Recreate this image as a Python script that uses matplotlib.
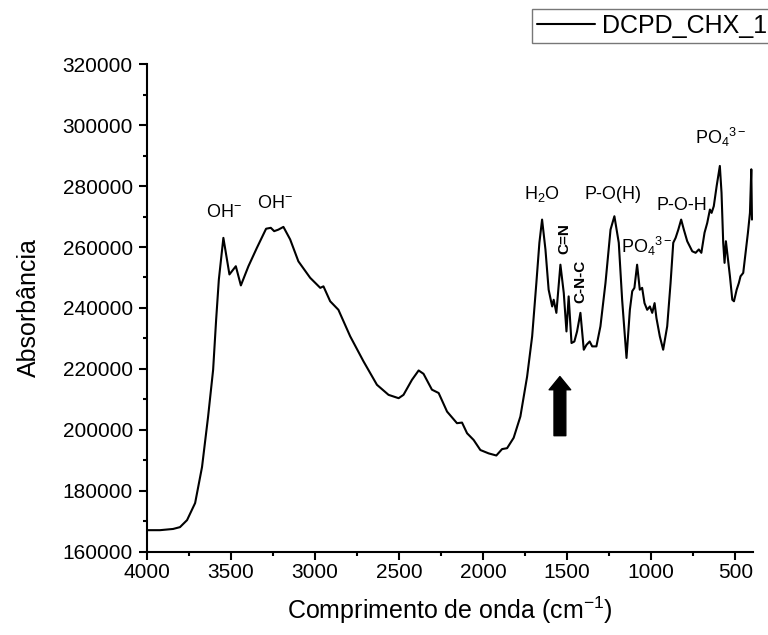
import matplotlib
matplotlib.use("Agg")
import matplotlib.pyplot as plt
from matplotlib.ticker import MultipleLocator, FormatStrFormatter

plt.rcParams["font.family"] = ["Liberation Sans", "DejaVu Sans"]
plt.rcParams["mathtext.fontset"] = "custom"
plt.rcParams["mathtext.rm"] = "Liberation Sans"
plt.rcParams["mathtext.it"] = "Liberation Sans:italic"
plt.rcParams["mathtext.bf"] = "Liberation Sans:bold"

# ---------------------------------------------------------------------------
# Spectrum (wavenumber cm-1, absorbance)
# ---------------------------------------------------------------------------
wavenumber = [
    4000, 3921, 3843, 3802, 3760, 3712, 3671, 3635, 3605, 3587,
    3571, 3544, 3508, 3470, 3440, 3395, 3345, 3290, 3262, 3242,
    3217, 3187, 3147, 3098, 3028, 2968, 2949, 2909, 2860, 2790,
    2711, 2631, 2562, 2502, 2473, 2423, 2383, 2354, 2304, 2264,
    2214, 2155, 2125, 2095, 2056, 2016, 1967, 1921, 1887, 1857,
    1818, 1778, 1738, 1708, 1683, 1665, 1649, 1629, 1610, 1589,
    1580, 1564, 1540, 1520, 1504, 1491, 1474, 1457, 1441, 1421,
    1401, 1385, 1366, 1351, 1326, 1302, 1272, 1242, 1219, 1193,
    1173, 1147, 1127, 1113, 1100, 1084, 1068, 1054, 1040, 1024,
    1008, 994, 980, 969, 949, 929, 905, 885, 869, 855,
    839, 822, 806, 786, 756, 736, 717, 702, 683, 667,
    651, 641, 628, 611, 592, 582, 572, 564, 556, 548,
    532, 518, 508, 492, 479, 469, 453, 439, 425, 413,
    405, 401,
]
absorbance = [
    167100, 167100, 167500, 168100, 170400, 176000, 187800, 204300, 219700, 236200,
    249300, 263000, 251000, 253700, 247400, 253700, 259700, 266000, 266300, 265200,
    265700, 266600, 262500, 255300, 249900, 246600, 247100, 242200, 239400, 230700,
    222500, 214800, 211500, 210400, 211500, 216400, 219500, 218400, 213200, 212100,
    206000, 202200, 202400, 198900, 196700, 193400, 192300, 191600, 193700, 194000,
    197400, 204400, 217500, 230700, 248200, 261400, 269000, 259200, 246000, 240500,
    242700, 238400, 254200, 244900, 232300, 243800, 228500, 229000, 232300, 238400,
    226300, 227900, 229000, 227400, 227400, 234000, 248200, 265700, 270100, 261400,
    242700, 223600, 239400, 245500, 246600, 254200, 246000, 246600, 241600, 239400,
    240500, 238400, 241600, 236700, 230700, 226300, 234000, 248200, 261400, 263000,
    265700, 269000, 265700, 261900, 258600, 258100, 259200, 258100, 264700, 267900,
    272300, 271200, 273400, 280000, 286600, 277800, 261400, 254800, 261900, 258100,
    250400, 242700, 242200, 246000, 248200, 250400, 251500, 258100, 264700, 271200,
    285500, 269000,
]

# band assignments
band_labels = ["OH$^{-}$", "OH$^{-}$", "H$_2$O", "P-O(H)", "PO$_4$$^{3-}$", "P-O-H", "PO$_4$$^{3-}$"]
band_wn = [3540, 3238, 1653, 1228, 1028, 816, 585]
band_abs = [271300, 274300, 277500, 277100, 260200, 273500, 296000]

vert_labels = ["C=N", "C-N-C"]
vert_wn = [1516, 1424]
vert_abs = [262800, 248800]

arrow_wn = 1543
arrow_tail, arrow_tip = 198100, 217500

xticks = [4000, 3500, 3000, 2500, 2000, 1500, 1000, 500]
yticks = list(range(160000, 320001, 20000))

# ---------------------------------------------------------------------------
# Figure
# ---------------------------------------------------------------------------
fig = plt.figure(figsize=(7.68, 6.35), dpi=100)
ax = fig.add_axes([0.191, 0.131, 0.789, 0.768])

ax.plot(wavenumber, absorbance, color="black", lw=1.5, label="DCPD_CHX_1",
        solid_joinstyle="round", solid_capstyle="round")

ax.set_xlim(4000, 397)
ax.set_ylim(160000, 320000)
ax.set_xticks(xticks)
ax.set_yticks(yticks)
ax.xaxis.set_minor_locator(MultipleLocator(250))
ax.yaxis.set_minor_locator(MultipleLocator(10000))
ax.yaxis.set_major_formatter(FormatStrFormatter("%d"))

for side in ("top", "right"):
    ax.spines[side].set_visible(False)
for side in ("left", "bottom"):
    ax.spines[side].set_linewidth(1.5)

ax.tick_params(which="major", direction="out", length=6, width=1.5, labelsize=15)
ax.tick_params(which="minor", direction="out", length=3, width=1.5)
ax.tick_params(axis="y", pad=4)
ax.tick_params(axis="x", pad=2)

ax.set_xlabel("Comprimento de onda (cm$^{-1}$)", fontsize=18)
ax.set_ylabel("Absorbância", fontsize=18)
ax.xaxis.set_label_coords(0.5, -0.088)
ax.yaxis.set_label_coords(-0.175, 0.5)

for txt, x, y in zip(band_labels, band_wn, band_abs):
    ax.text(x, y, txt, ha="center", va="center", fontsize=13)
for txt, x, y in zip(vert_labels, vert_wn, vert_abs):
    ax.text(x, y, txt, ha="center", va="center", fontsize=11,
            fontweight="bold", rotation=90)

ax.annotate("", xy=(arrow_wn, arrow_tip), xytext=(arrow_wn, arrow_tail),
            arrowprops=dict(facecolor="black", edgecolor="black",
                            width=8.5, headwidth=15.5, headlength=9.5, shrink=0))

leg = ax.legend(loc="upper left", bbox_to_anchor=(0.693, 0.986),
                bbox_transform=fig.transFigure, borderaxespad=0,
                fontsize=18, handlelength=2.3, handletextpad=0.3,
                borderpad=0.2, fancybox=False, framealpha=1)
leg.get_frame().set_edgecolor("#777777")
leg.get_frame().set_linewidth(1.0)

fig.savefig("out.png", dpi=100, facecolor="white")
